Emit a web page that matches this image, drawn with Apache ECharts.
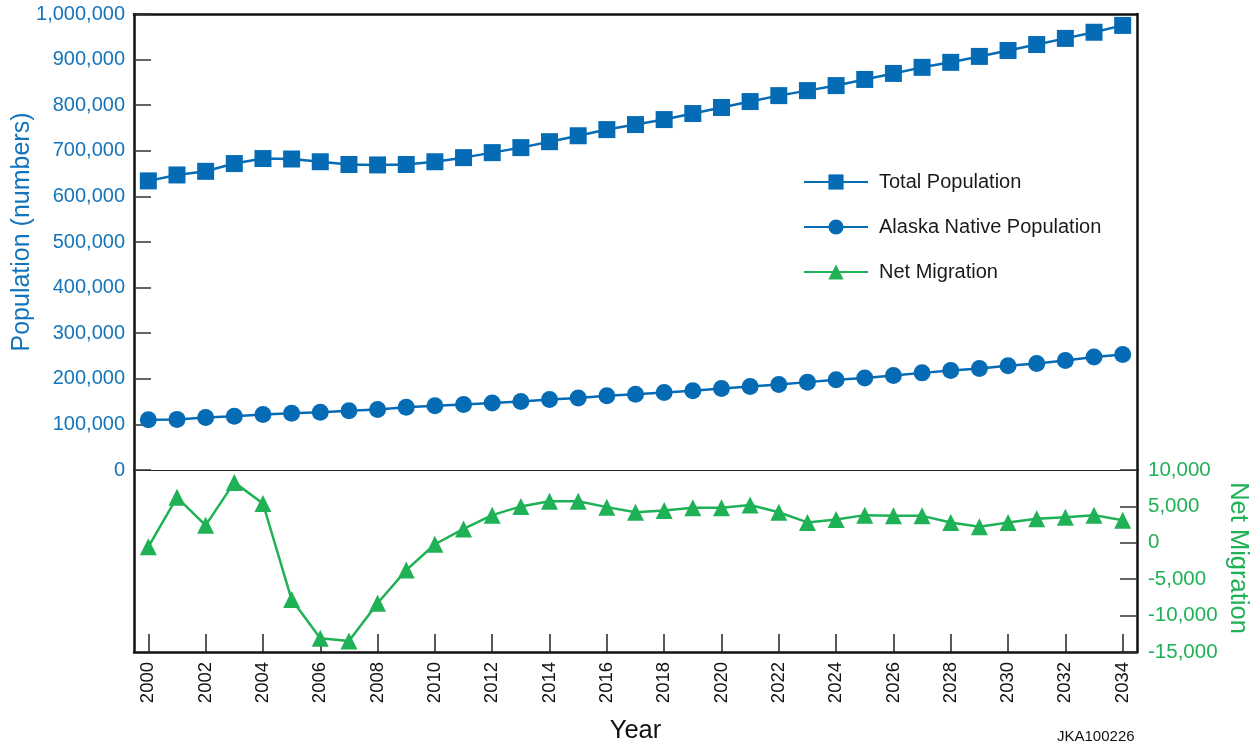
<!DOCTYPE html>
<html>
<head>
<meta charset="utf-8">
<script src="https://cdn.jsdelivr.net/npm/echarts@6/dist/echarts.min.js"></script>
<style>
html,body{margin:0;padding:0;background:#fff;}
#chart{width:1257px;height:746px;}
</style>
</head>
<body>
<div id="chart"></div>
<script>
const years = [];
for (let y = 2000; y <= 2034; y++) years.push(String(y));

const totalPopulation = [634000, 647000, 655000, 672000, 683000, 682000, 676000, 670000, 669000, 670000,
  676000, 685000, 696000, 707000, 720000, 733000, 746500, 757500, 768500, 781700,
  795000, 808000, 821000, 832000, 843000, 856500, 869700, 883000, 894000, 907000,
  920000, 933000, 946500, 960000, 975000];

const nativePopulation = [110000, 111000, 115000, 118000, 121500, 124600, 126800, 130000, 132500, 137800,
  140700, 143500, 147000, 150000, 154500, 158000, 162600, 166000, 170000, 174000,
  178700, 183000, 187500, 192700, 197800, 202000, 207000, 213000, 218000, 222600,
  228600, 233600, 240000, 247700, 253400];

const netMigration = [-550, 6250, 2400, 8300, 5400, -7800, -13100, -13500, -8300, -3750,
  -200, 1900, 3800, 5000, 5700, 5700, 4900, 4200, 4450, 4800,
  4800, 5200, 4200, 2800, 3200, 3800, 3700, 3700, 2800, 2200,
  2800, 3300, 3500, 3800, 3100];

const populationTicks = { min: 0, max: 1000000, interval: 100000 };
const migrationTicks = { min: -15000, max: 10000, interval: 5000 };

const BLUE = '#046bb4';
const BLUE_TEXT = '#1474bb';
const GREEN = '#1fb155';
const FONT = '"Liberation Sans", Arial, Helvetica, sans-serif';

const fmt = v => Number(v).toLocaleString('en-US');

const chart = echarts.init(document.getElementById('chart'), null, { renderer: 'canvas' });

const hiddenAxisParts = {
  axisTick: { show: false },
  axisLabel: { show: false },
  splitLine: { show: false }
};

chart.setOption({
  animation: false,
  backgroundColor: '#ffffff',
  textStyle: { fontFamily: FONT },
  grid: [
    { left: 134, right: 120, top: 14, height: 456, containLabel: false, outerBoundsMode: 'none' },
    { left: 134, right: 120, top: 470, height: 182, containLabel: false, outerBoundsMode: 'none' }
  ],
  legend: {
    orient: 'vertical',
    left: 798,
    top: 167,
    itemWidth: 64,
    itemHeight: 19,
    itemGap: 25,
    data: ['Total Population', 'Alaska Native Population', 'Net Migration'],
    textStyle: { fontSize: 20, color: '#1a1a1a', fontFamily: FONT, padding: [0, 0, 0, 6] }
  },
  graphic: [
    {
      type: 'text',
      left: 1057,
      top: 729,
      style: { text: 'JKA100226', fontSize: 15, fill: '#111', fontFamily: FONT }
    }
  ],
  xAxis: [
    {
      type: 'category', gridIndex: 0, data: years, position: 'bottom',
      axisLine: { show: true, onZero: false, lineStyle: { color: '#222', width: 1.2 } },
      ...hiddenAxisParts
    },
    {
      type: 'category', gridIndex: 0, data: years, position: 'top',
      axisLine: { show: true, onZero: false, lineStyle: { color: '#111', width: 2.5 } },
      ...hiddenAxisParts
    },
    {
      type: 'category', gridIndex: 1, data: years, position: 'bottom',
      axisLine: { show: true, onZero: false, lineStyle: { color: '#111', width: 2.5 } },
      axisTick: { show: true, inside: true, length: 18, interval: 1, alignWithLabel: true, lineStyle: { color: '#222', width: 1.5 } },
      axisLabel: { show: true, interval: 1, rotate: 90, fontSize: 18.5, color: '#111', margin: 10, fontFamily: FONT },
      splitLine: { show: false },
      name: 'Year', nameLocation: 'middle', nameGap: 66, nameMoveOverlap: false,
      nameTextStyle: { fontSize: 25.5, color: '#111', fontFamily: FONT }
    }
  ],
  yAxis: [
    {
      type: 'value', gridIndex: 0, position: 'left',
      min: populationTicks.min, max: populationTicks.max, interval: populationTicks.interval,
      axisLine: { show: true, onZero: false, lineStyle: { color: '#111', width: 2.5 } },
      axisTick: { show: true, inside: true, length: 17, lineStyle: { color: '#333', width: 1.5 } },
      axisLabel: { show: true, color: BLUE_TEXT, fontSize: 20, margin: 9, formatter: fmt, fontFamily: FONT },
      splitLine: { show: false },
      name: 'Population (numbers)', nameLocation: 'middle', nameRotate: 90, nameGap: 99, nameMoveOverlap: false,
      nameTextStyle: { fontSize: 25, color: BLUE_TEXT, fontFamily: FONT, padding: [0, 0, 0, 20] }
    },
    {
      type: 'value', gridIndex: 0, position: 'right', min: 0, max: 1,
      axisLine: { show: true, onZero: false, lineStyle: { color: '#111', width: 2.5 } },
      ...hiddenAxisParts
    },
    {
      type: 'value', gridIndex: 1, position: 'left', min: 0, max: 1,
      axisLine: { show: true, onZero: false, lineStyle: { color: '#111', width: 2.5 } },
      ...hiddenAxisParts
    },
    {
      type: 'value', gridIndex: 1, position: 'right',
      min: migrationTicks.min, max: migrationTicks.max, interval: migrationTicks.interval,
      axisLine: { show: true, onZero: false, lineStyle: { color: '#111', width: 2.5 } },
      axisTick: { show: true, inside: true, length: 17, lineStyle: { color: '#333', width: 1.5 } },
      axisLabel: { show: true, color: GREEN, fontSize: 20.5, margin: 11, formatter: fmt, fontFamily: FONT },
      splitLine: { show: false },
      name: 'Net Migration', nameLocation: 'middle', nameRotate: -90, nameGap: 88, nameMoveOverlap: false,
      nameTextStyle: { fontSize: 25.5, color: GREEN, fontFamily: FONT, padding: [0, 6, 0, 0] }
    }
  ],
  series: [
    {
      name: 'Total Population', type: 'line', xAxisIndex: 0, yAxisIndex: 0,
      data: totalPopulation, symbol: 'rect', symbolSize: 17,
      lineStyle: { color: BLUE, width: 2.5 }, itemStyle: { color: BLUE },
      z: 3
    },
    {
      name: 'Alaska Native Population', type: 'line', xAxisIndex: 0, yAxisIndex: 0,
      data: nativePopulation, symbol: 'circle', symbolSize: 17,
      lineStyle: { color: BLUE, width: 2.5 }, itemStyle: { color: BLUE },
      z: 3
    },
    {
      name: 'Net Migration', type: 'line', xAxisIndex: 2, yAxisIndex: 3,
      data: netMigration, symbol: 'triangle', symbolSize: 17,
      lineStyle: { color: GREEN, width: 2.5 }, itemStyle: { color: GREEN },
      z: 3
    }
  ]
});
</script>
</body>
</html>
